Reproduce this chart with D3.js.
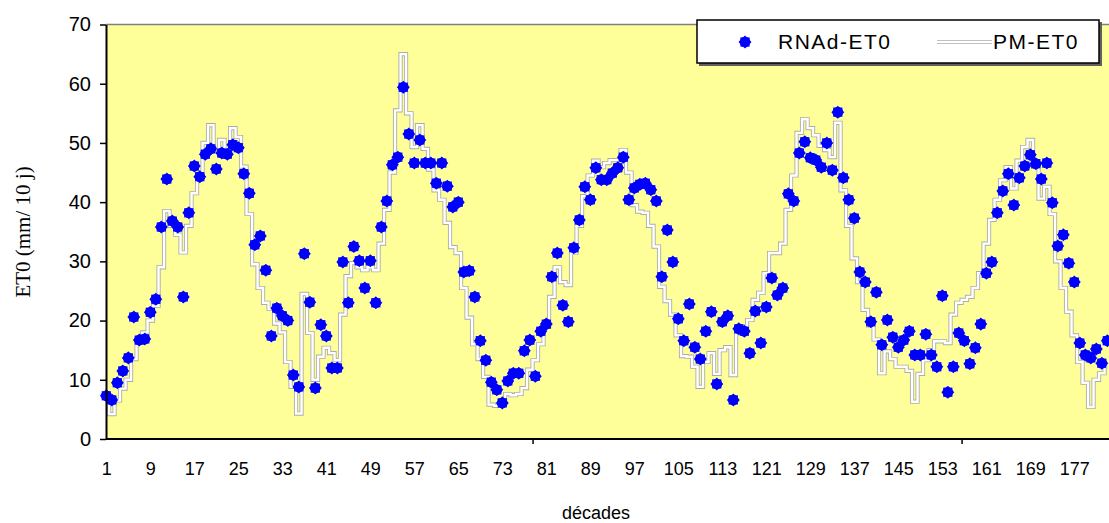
<!doctype html>
<html>
<head>
<meta charset="utf-8"/>
<title>RNAd-ET0 / PM-ET0</title>
<script src="https://d3js.org/d3.v7.min.js"></script>
<style>
body { margin: 0; background: #fff; }
.tick text { font-family: "Liberation Sans", Arial, sans-serif; fill: #000; }
</style>
</head>
<body>
<svg id="chart"></svg>
<script>
// ET0 par décade
const rnad = [
    7.3, 6.6, 9.5, 11.5, 13.7, 20.6, 16.7, 16.9, 21.4, 23.6,
    35.8, 43.9, 36.8, 35.8, 24.0, 38.2, 46.1, 44.3, 48.1, 49.0,
    45.6, 48.3, 48.1, 49.7, 49.2, 44.8, 41.5, 32.8, 34.3, 28.5,
    17.4, 22.1, 20.8, 20.0, 10.8, 8.8, 31.3, 23.1, 8.6, 19.3,
    17.4, 12.0, 12.0, 29.9, 23.0, 32.5, 30.1, 25.5, 30.1, 23.0,
    35.8, 40.2, 46.3, 47.6, 59.4, 51.5, 46.6, 50.5, 46.6, 46.6,
    43.2, 46.6, 42.7, 39.2, 40.0, 28.2, 28.4, 24.0, 16.6, 13.3,
    9.6, 8.3, 6.1, 9.8, 11.1, 11.1, 14.9, 16.7, 10.6, 18.2,
    19.4, 27.4, 31.4, 22.6, 19.8, 32.3, 37.0, 42.6, 40.4, 45.8,
    43.8, 43.8, 44.9, 45.8, 47.6, 40.4, 42.4, 43.0, 43.2, 42.1,
    40.2, 27.4, 35.3, 29.9, 20.3, 16.6, 22.8, 15.5, 13.5, 18.2,
    21.5, 9.3, 19.8, 20.8, 6.6, 18.6, 18.2, 14.5, 21.6, 16.2,
    22.3, 27.2, 24.3, 25.5, 41.4, 40.2, 48.3, 50.2, 47.5, 47.1,
    45.9, 50.0, 45.4, 55.2, 44.1, 40.4, 37.3, 28.2, 26.5, 19.8,
    24.8, 15.9, 20.1, 17.2, 15.5, 16.7, 18.2, 14.2, 14.2, 17.7,
    14.2, 12.2, 24.2, 7.9, 12.2, 17.9, 16.6, 12.7, 15.4, 19.4,
    28.0, 29.9, 38.2, 41.9, 44.8, 39.5, 44.1, 46.1, 48.0, 46.5,
    43.9, 46.6, 39.9, 32.6, 34.5, 29.7, 26.5, 16.2, 14.2, 13.7,
    15.2, 12.8, 16.6
];
const pm = [
    6.0, 4.2, 6.5, 8.5, 10.0, 13.5, 16.5, 18.0, 20.0, 22.5,
    29.0, 38.5, 36.0, 34.5, 31.5, 36.0, 41.5, 45.0, 50.0, 53.0,
    49.0, 50.5, 48.5, 52.5, 51.0, 46.0, 38.0, 29.5, 25.5, 23.0,
    22.0, 19.5, 18.0, 13.0, 8.8, 4.3, 24.5, 17.9, 10.0, 13.9,
    15.4, 14.5, 13.3, 21.0, 27.5, 29.7, 29.0, 28.5, 29.0, 28.5,
    33.0, 38.7, 45.0, 55.5, 65.0, 55.0, 49.3, 53.0, 49.0, 45.5,
    42.0, 40.4, 36.5, 32.4, 31.4, 25.5, 20.5, 16.0, 13.5, 10.5,
    5.8, 5.6, 6.5, 7.6, 7.4, 7.6, 8.6, 11.7, 13.3, 16.0,
    19.0, 24.0, 29.0, 26.5, 26.0, 31.5, 36.0, 41.0, 44.5, 47.0,
    45.9, 46.6, 47.1, 47.1, 48.8, 45.0, 39.5, 38.4, 38.2, 36.0,
    32.5, 25.7, 23.3, 21.0, 17.5, 14.0, 13.9, 12.2, 8.8, 13.0,
    14.5, 11.0, 15.0, 15.5, 10.8, 19.0, 19.0, 20.1, 23.5, 24.7,
    28.0, 31.4, 31.4, 33.0, 38.7, 44.5, 51.7, 54.0, 52.5, 51.3,
    49.5, 48.8, 47.6, 53.4, 42.0, 36.0, 30.5, 26.5, 21.8, 19.2,
    16.8, 11.1, 14.8, 13.5, 12.2, 12.2, 11.5, 6.3, 11.0, 13.3,
    15.0, 16.5, 16.5, 16.2, 21.0, 23.0, 23.5, 24.0, 25.5, 28.0,
    33.0, 37.0, 40.4, 43.7, 45.9, 42.3, 47.0, 49.3, 50.5, 46.0,
    40.6, 42.6, 38.0, 30.0, 25.5, 21.5, 17.5, 13.0, 9.5, 5.4,
    10.0, 11.1, 12.2
];
const decades = d3.range(1, rnad.length + 1);
const x_labels = [1, 9, 17, 25, 33, 41, 49, 57, 65, 73, 81, 89, 97, 105, 113, 121, 129, 137, 145, 153, 161, 169, 177];
const x_marks = [78.5, 156.5];   // the few tick marks excel drew
const y_ticks = [0, 10, 20, 30, 40, 50, 60, 70];
const series_names = ['RNAd-ET0', 'PM-ET0'];

const width = 1109, height = 523;
const plot_left = 106, plot_right = 1114, plot_top = 24.5, plot_bottom = 439;
const blue = '#0000ff';

const svg = d3.select('#chart')
    .attr('width', width)
    .attr('height', height);

const x = d3.scaleLinear().domain([1, 183]).range([106.3, 1107.3]);
const y = d3.scaleLinear().domain([0, 70]).range([plot_bottom, plot_top]);

// plot area
svg.append('rect')
    .attr('x', plot_left).attr('y', plot_top)
    .attr('width', plot_right - plot_left).attr('height', plot_bottom - plot_top)
    .attr('fill', '#ffff99');
svg.append('line')
    .attr('x1', plot_left).attr('x2', plot_right)
    .attr('y1', plot_top).attr('y2', plot_top)
    .style('stroke', '#808080').style('stroke-width', 1.5);

// PM-ET0 : white line with a grey edge, stepped
const line = d3.line()
    .x(d => x(d))
    .y(d => y(pm[d - 1]))
    .curve(d3.curveStep);
svg.append('path').datum(decades)
    .attr('d', line)
    .attr('fill', 'none')
    .style('stroke', '#acacac').style('stroke-width', 4.2);
svg.append('path').datum(decades)
    .attr('d', line)
    .attr('fill', 'none')
    .style('stroke', '#ffffff').style('stroke-width', 2.4);

// RNAd-ET0 markers: round blob with eight small points
function marker(g) {
    g.append('circle').attr('r', 5.3).attr('fill', blue);
    g.append('rect').attr('x', -4.6).attr('y', -4.6).attr('width', 9.2).attr('height', 9.2)
        .attr('fill', blue);
    g.append('rect').attr('x', -4.6).attr('y', -4.6).attr('width', 9.2).attr('height', 9.2)
        .attr('transform', 'rotate(45)').attr('fill', blue);
}
svg.append('g').selectAll('g')
    .data(decades)
    .join('g')
    .attr('transform', d => `translate(${x(d)},${y(rnad[d - 1])})`)
    .each(function() { marker(d3.select(this)); });

// axes
const y_axis = svg.append('g')
    .attr('transform', `translate(${plot_left},0)`)
    .call(d3.axisLeft(y).tickValues(y_ticks).tickSize(6).tickSizeOuter(0).tickPadding(9));
y_axis.selectAll('text').style('font-size', '20px');
y_axis.select('.domain').style('stroke', '#000').style('stroke-width', 2);
y_axis.selectAll('.tick line').style('stroke', '#000').style('stroke-width', 1.5);

const x_axis = svg.append('g')
    .attr('transform', `translate(0,${plot_bottom})`)
    .call(d3.axisBottom(x).tickValues(x_labels).tickSize(0).tickPadding(23));
x_axis.selectAll('text').style('font-size', '18px');
x_axis.select('.domain').attr('d', `M${plot_left},0H${plot_right}`)
    .style('stroke', '#000').style('stroke-width', 2);

const x_ticks = svg.append('g')
    .attr('transform', `translate(0,${plot_bottom})`)
    .call(d3.axisBottom(x).tickValues(x_marks).tickSize(5).tickFormat(''));
x_ticks.select('.domain').remove();
x_ticks.selectAll('line').style('stroke', '#000').style('stroke-width', 1.5);

// titles
svg.append('text')
    .attr('x', 596).attr('y', 519)
    .attr('text-anchor', 'middle')
    .style('font-family', '"Liberation Sans", Arial, sans-serif')
    .style('font-size', '18px')
    .text('décades');
svg.append('text')
    .attr('transform', 'translate(30,232) rotate(-90)')
    .attr('text-anchor', 'middle')
    .style('font-family', '"Liberation Serif", "Times New Roman", serif')
    .style('font-size', '21px')
    .text('ET0 (mm/ 10 j)');

// legend
const legend = svg.append('g');
legend.append('rect')
    .attr('x', 699).attr('y', 22).attr('width', 403).attr('height', 44)
    .attr('fill', '#606060');
legend.append('rect')
    .attr('x', 697).attr('y', 20).attr('width', 402).attr('height', 43)
    .attr('fill', '#fff').style('stroke', '#000').style('stroke-width', 1.5);
const lg_font = '"Liberation Sans", Arial, sans-serif';
marker(legend.append('g').attr('transform', 'translate(745,42)'));
legend.append('text')
    .attr('x', 778).attr('y', 49)
    .style('font-family', lg_font).style('font-size', '21px').style('letter-spacing', '1.5px')
    .text(series_names[0]);
legend.append('line')
    .attr('x1', 937).attr('x2', 992).attr('y1', 42).attr('y2', 42)
    .style('stroke', '#acacac').style('stroke-width', 4.2);
legend.append('line')
    .attr('x1', 937).attr('x2', 992).attr('y1', 42).attr('y2', 42)
    .style('stroke', '#fff').style('stroke-width', 2.4);
legend.append('text')
    .attr('x', 993).attr('y', 49)
    .style('font-family', lg_font).style('font-size', '21px').style('letter-spacing', '1.5px')
    .text(series_names[1]);
</script>
</body>
</html>
